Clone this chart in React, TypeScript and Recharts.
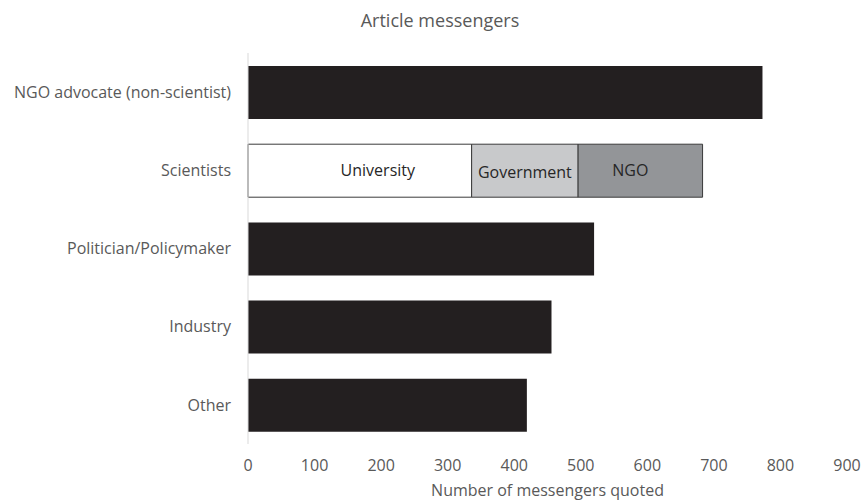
import React from 'react';
import { BarChart, Bar, XAxis, YAxis, LabelList } from 'recharts';

const categories = ['NGO advocate (non-scientist)', 'Scientists', 'Politician/Policymaker', 'Industry', 'Other'];
const totals = [773, null, 520, 456, 419];
const university = [null, 336, null, null, null];
const government = [null, 160, null, null, null];
const ngo = [null, 187, null, null, null];
const xTicks = [0, 100, 200, 300, 400, 500, 600, 700, 800, 900];

const data = categories.map((c, i) => ({
  name: c,
  total: totals[i],
  university: university[i],
  government: government[i],
  ngo: ngo[i],
  uniLabel: university[i] != null ? 'University' : undefined,
  govLabel: government[i] != null ? 'Government' : undefined,
  ngoLabel: ngo[i] != null ? 'NGO' : undefined,
}));

const FONT = '"Open Sans", sans-serif';
const GRAY = '#595959';

export default function App() {
  return (
    <div style={{ position: 'absolute', left: 0, top: 0, width: 862, height: 502, background: '#fff' }}>
      <BarChart
        width={862}
        height={502}
        data={data}
        layout="vertical"
        margin={{ top: 53, right: 15, bottom: 0, left: 0 }}
        style={{ fontFamily: FONT }}
      >
        <text x={440} y={20} textAnchor="middle" dominantBaseline="central" fill={GRAY} fontSize={18} fontFamily={FONT}>
          Article messengers
        </text>
        <XAxis
          type="number"
          domain={[0, 900]}
          ticks={xTicks}
          interval={0}
          axisLine={false}
          tickLine={false}
          tickMargin={10}
          height={58}
          tick={{ fill: GRAY, fontSize: 16, fontFamily: FONT }}
          label={{ value: 'Number of messengers quoted', position: 'insideBottom', offset: 6, fill: GRAY, fontSize: 16, fontFamily: FONT }}
        />
        <YAxis
          type="category"
          dataKey="name"
          width={248}
          axisLine={{ stroke: '#d9d9d9' }}
          tickLine={false}
          tickMargin={11}
          tick={{ fill: GRAY, fontSize: 16, fontFamily: FONT }}
        />
        <Bar dataKey="total" stackId="a" fill="#231f20" barSize={53} isAnimationActive={false} />
        <Bar dataKey="university" stackId="a" fill="#ffffff" stroke="#3a3a3a" strokeWidth={1} barSize={53} isAnimationActive={false}>
          <LabelList dataKey="uniLabel" position="center" dx={18} fill="#262626" fontSize={16} fontFamily={FONT} />
        </Bar>
        <Bar dataKey="government" stackId="a" fill="#c8c9cb" stroke="#3a3a3a" strokeWidth={1} barSize={53} isAnimationActive={false}>
          <LabelList dataKey="govLabel" position="center" dy={2} fill="#262626" fontSize={16} fontFamily={FONT} />
        </Bar>
        <Bar dataKey="ngo" stackId="a" fill="#939598" stroke="#3a3a3a" strokeWidth={1} barSize={53} isAnimationActive={false}>
          <LabelList dataKey="ngoLabel" position="center" dx={-10} fill="#262626" fontSize={16} fontFamily={FONT} />
        </Bar>
      </BarChart>
    </div>
  );
}
